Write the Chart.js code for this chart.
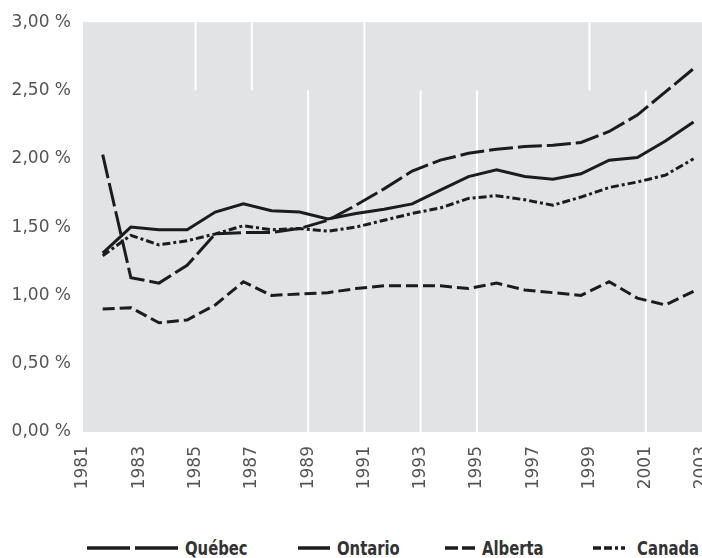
<!DOCTYPE html>
<html>
<head>
<meta charset="utf-8">
<script src="https://cdn.jsdelivr.net/npm/chart.js@4.4.0/dist/chart.umd.min.js"></script>
<style>
  body { margin: 0; background: #fff; }
  #wrap { position: relative; width: 702px; height: 558px; overflow: hidden; }
  #chart { position: absolute; left: 0; top: 0; }
  .legend-item {
    position: absolute;
    top: 538px;
    height: 20px;
    display: flex;
    align-items: center;
    white-space: nowrap;
    font-family: "DejaVu Sans", sans-serif;
    font-weight: bold;
    font-size: 19px;
    color: #333;
  }
  .legend-item svg { margin-right: 7px; }
  .legend-item span { display: inline-block; transform: scaleX(0.78); transform-origin: left center; }
</style>
</head>
<body>
<div id="wrap">
  <canvas id="chart" width="702" height="500"></canvas>
  <div id="legend"></div>
</div>
<script>
// annual values, in %
const years = [1982, 1983, 1984, 1985, 1986, 1987, 1988, 1989, 1990, 1991, 1992,
  1993, 1994, 1995, 1996, 1997, 1998, 1999, 2000, 2001, 2002, 2003]
const quebec = [2.03, 1.13, 1.09, 1.22, 1.45, 1.46, 1.46, 1.49, 1.55, 1.66, 1.78,
  1.91, 1.99, 2.04, 2.07, 2.09, 2.10, 2.12, 2.20, 2.32, 2.49, 2.66]
const ontario = [1.31, 1.50, 1.48, 1.48, 1.61, 1.67, 1.62, 1.61, 1.56, 1.60, 1.63,
  1.67, 1.77, 1.87, 1.92, 1.87, 1.85, 1.89, 1.99, 2.01, 2.13, 2.27]
const alberta = [0.90, 0.91, 0.80, 0.82, 0.93, 1.10, 1.00, 1.01, 1.02, 1.05, 1.07,
  1.07, 1.07, 1.05, 1.09, 1.04, 1.02, 1.00, 1.10, 0.98, 0.93, 1.03]
const canada = [1.29, 1.44, 1.37, 1.40, 1.45, 1.51, 1.48, 1.49, 1.47, 1.50, 1.55,
  1.60, 1.64, 1.71, 1.73, 1.70, 1.66, 1.72, 1.79, 1.83, 1.88, 2.00]

// white vertical rules of the original: [year, from %, to %]
const rules = [[1985, 2.5, 3], [1987, 2.5, 3], [1989, 0, 2.5], [1991, 0, 3],
  [1993, 0, 2.5], [1995, 0, 2.5], [1999, 2.5, 3], [2001, 0, 2.5]]

// points sit a little before each year tick in the original
const pts = (vals) => vals.map((v, i) => ({ x: years[i] - 0.3, y: v }))

const ink = "#1c1c1c"
const series = [
  { label: "Québec", data: quebec, dash: [24, 5], legendDash: [43, 5], legendW: 91 },
  { label: "Ontario", data: ontario, dash: [], legendDash: [], legendW: 32 },
  { label: "Alberta", data: alberta, dash: [12, 5], legendDash: [13, 4], legendW: 30 },
  { label: "Canada", data: canada, dash: [8, 3, 3, 3], legendDash: [8, 3, 8, 3, 3, 3, 4], legendW: 37 },
]

const plotBackground = {
  id: "plotBackground",
  beforeDatasetsDraw(chart) {
    const { ctx, chartArea: a, scales } = chart
    ctx.save()
    ctx.fillStyle = "#e2e3e5"
    ctx.fillRect(a.left, a.top, a.right - a.left, a.bottom - a.top)
    ctx.strokeStyle = "#ffffff"
    ctx.lineWidth = 2
    rules.forEach(([yr, from, to]) => {
      const x = scales.x.getPixelForValue(yr)
      ctx.beginPath()
      ctx.moveTo(x, scales.y.getPixelForValue(from))
      ctx.lineTo(x, scales.y.getPixelForValue(to))
      ctx.stroke()
    })
    ctx.restore()
  },
}

const tickFont = { family: "DejaVu Sans", size: 17 }

new Chart(document.getElementById("chart"), {
  type: "line",
  data: {
    datasets: series.map((s) => ({
      label: s.label,
      data: pts(s.data),
      borderColor: ink,
      borderWidth: 3,
      borderDash: s.dash,
      pointRadius: 0,
      tension: 0,
      fill: false,
    })),
  },
  options: {
    responsive: false,
    animation: false,
    layout: { padding: { top: 15, right: 0, left: 0, bottom: 0 } },
    plugins: { legend: { display: false }, tooltip: { enabled: false } },
    scales: {
      x: {
        type: "linear",
        min: 1981,
        max: 2003,
        grid: { display: false },
        border: { display: false },
        ticks: {
          stepSize: 2,
          autoSkip: false,
          minRotation: 90,
          maxRotation: 90,
          padding: 6,
          color: "#555",
          font: tickFont,
          callback: (v) => String(v),
        },
        afterFit: (scale) => {
          scale.height = 68
          scale.paddingLeft = 0
          scale.paddingRight = 0
        },
      },
      y: {
        min: 0,
        max: 3,
        grid: { display: false, drawTicks: false },
        border: { display: false },
        ticks: {
          stepSize: 0.5,
          padding: 12,
          color: "#555",
          font: tickFont,
          callback: (v) => v.toFixed(2).replace(".", ",") + " %",
        },
        afterFit: (scale) => {
          scale.width = 83
        },
      },
    },
  },
  plugins: [plotBackground],
})

// legend below the chart
const legendLeft = [87, 298, 445, 593]
const legend = document.getElementById("legend")
series.forEach((s, i) => {
  const item = document.createElement("div")
  item.className = "legend-item"
  item.style.left = legendLeft[i] + "px"
  item.innerHTML =
    '<svg width="' + s.legendW + '" height="6"><line x1="0" y1="3" x2="' + s.legendW +
    '" y2="3" stroke="' + ink + '" stroke-width="3.5" stroke-dasharray="' +
    (s.legendDash.length ? s.legendDash.join(" ") : "none") + '"/></svg>' +
    "<span>" + s.label + "</span>"
  legend.appendChild(item)
})
</script>
</body>
</html>
